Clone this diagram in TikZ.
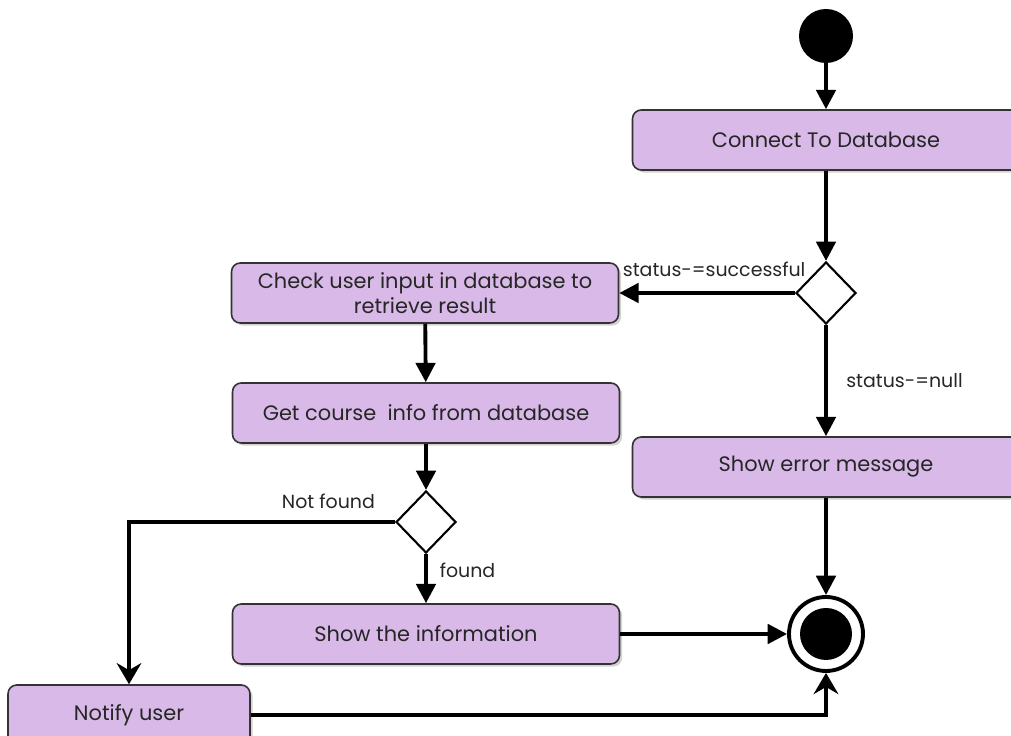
\documentclass[tikz,border=0pt]{standalone}
\usepackage{fontspec}
\setmainfont{Poppins}
\usetikzlibrary{arrows.meta, shapes.geometric, shadows}
\definecolor{lilac}{RGB}{216,185,232}

\begin{document}
\begin{tikzpicture}[
        act/.style={draw=black!80, line width=0.9pt, fill=lilac, rounded corners=5pt,
            minimum width=7.74cm, minimum height=1.2cm, align=center, text=black!85,
            font=\fontsize{11.9}{14.2}\selectfont,
            drop shadow={shadow xshift=1.5pt, shadow yshift=-1.5pt, opacity=0.35}},
        choice/.style={diamond, draw=black, line width=1.2pt, fill=white,
            minimum width=1.2cm, minimum height=1.24cm, inner sep=0pt},
        flow/.style={line width=2.2pt, -{Triangle[length=11pt, width=11pt]}},
        bent/.style={line width=2.2pt, -{Stealth[length=12pt, width=14pt, inset=4pt]}},
        guard/.style={font=\fontsize{10.8}{12}\selectfont, text=black!85}
    ]
        \useasboundingbox (0, 0) rectangle (20.22, 14.72);
        \clip (0, 0) rectangle (20.22, 14.72);

        % Start
        \node[circle, fill=black, minimum size=1.08cm, inner sep=0pt] (start) at (16.52, 14.0) {};

        % Right column
        \node[act] (connect) at (16.52, 11.92) {Connect To Database};
        \node[choice] (status) at (16.52, 8.86) {};
        \node[act] (error) at (16.52, 5.38) {Show error message};

        % Left column
        \node[act] (check) at (8.5, 8.86) {Check user input in database to\\retrieve result};
        \node[act] (course) at (8.52, 6.46) {Get course\ \ info from database};
        \node[choice] (found) at (8.52, 4.28) {};
        \node[act] (show) at (8.52, 2.04) {Show the information};
        \node[act, minimum width=4.84cm] (notify) at (2.58, 0.42) {Notify user};

        % End
        \node[circle, draw=black, line width=2.2pt, fill=white, minimum size=1.48cm, inner sep=0pt] (final) at (16.52, 2.04) {};
        \node[circle, fill=black, minimum size=1.04cm, inner sep=0pt] (finaldot) at (final) {};

        % Flows
        \draw[flow] (start) -- (connect);
        \draw[flow] (connect) -- (status);
        \draw[flow] (status.west) -- node[guard, above=0.18cm, pos=0.46] {status-=successful} (check.east);
        \draw[flow] (status.south) -- node[guard, right=0.25cm, pos=0.5] {status-=null} (error.north);
        \draw[flow] (check) -- (course);
        \draw[flow] (course) -- (found);
        \draw[bent] (found.west) -| node[guard, above=0.12cm, pos=0.125] {Not found} (notify.north);
        \draw[flow] (found.south) -- node[guard, right=0.12cm, pos=0.33] {found} (show.north);
        \draw[flow] (error) -- (final);
        \draw[flow] (show.east) -- (final.west);
        \draw[bent] (notify.east) -| (final.south);
    \end{tikzpicture}
\end{document}
